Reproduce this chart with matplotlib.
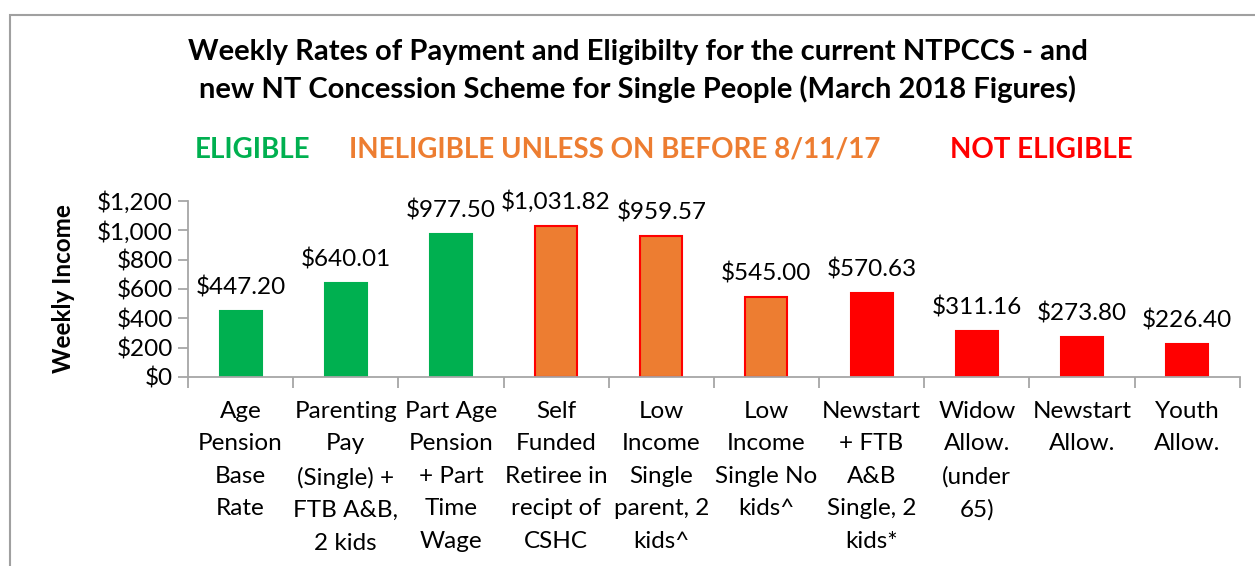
# weekly payment rates vs eligibility for the NT concession scheme (single people)

import matplotlib
matplotlib.use('Agg')
from matplotlib import pyplot as plt
from matplotlib.patches import Rectangle

plt.rcParams['font.family'] = ['Lato', 'DejaVu Sans']

categories = [
    "Age\nPension\nBase\nRate",
    "Parenting\nPay\n(Single) +\nFTB A&B,\n2 kids",
    "Part Age\nPension\n+ Part\nTime\nWage",
    "Self\nFunded\nRetiree in\nrecipt of\nCSHC",
    "Low\nIncome\nSingle\nparent, 2\nkids^",
    "Low\nIncome\nSingle No\nkids^",
    "Newstart\n+ FTB\nA&B\nSingle, 2\nkids*",
    "Widow\nAllow.\n(under\n65)",
    "Newstart\nAllow.",
    "Youth\nAllow.",
]
weekly_income = [447.20, 640.01, 977.50, 1031.82, 959.57, 545.00, 570.63, 311.16, 273.80, 226.40]
status = ["eligible"] * 3 + ["before"] * 4 + ["not"] * 3

GREEN = '#00B050'
ORANGE = '#ED7D31'
RED = '#FF0000'
AXIS = '#A6A6A6'

fill = {"eligible": GREEN, "before": ORANGE, "not": RED}
edge = {"eligible": GREEN, "before": RED, "not": RED}
# the "before 8/11/17" group is coloured by its bar fill, except Newstart + FTB which is red
fills = [fill[s] for s in status]
edges = [edge[s] for s in status]
fills[6] = RED

fig = plt.figure(figsize=(12.55, 5.66), dpi=100)
ax = fig.add_axes([0.1498, 0.334, 0.838, 0.311])

x = list(range(len(categories)))
bars = ax.bar(x, weekly_income, width=0.4, color=fills, edgecolor=edges, linewidth=1.5)

for xi, v in zip(x, weekly_income):
    ax.annotate(f"${v:,.2f}", (xi, v), xytext=(0, 9), textcoords='offset points',
                ha='center', va='bottom', fontsize=17.5)

ax.set_xlim(-0.5, len(categories) - 0.5)
ax.set_ylim(0, 1200)
ax.set_yticks(range(0, 1201, 200))
ax.set_yticklabels([f"${t:,}" for t in range(0, 1201, 200)], fontsize=17.5)
ax.set_xticks([i - 0.5 for i in range(len(categories) + 1)])
ax.set_xticklabels([])
ax.set_xticks(x, minor=True)
ax.set_xticklabels(categories, minor=True, fontsize=17.5, linespacing=1.68, va='top')
ax.tick_params(axis='x', which='minor', length=0, pad=17)
ax.tick_params(axis='x', which='major', length=8, color=AXIS, width=1.3)
ax.tick_params(axis='y', length=7, color=AXIS, width=1.3, pad=4)

for s in ['top', 'right']:
    ax.spines[s].set_visible(False)
for s in ['left', 'bottom']:
    ax.spines[s].set_color(AXIS)
    ax.spines[s].set_linewidth(1.3)

ax.set_ylabel("Weekly Income", fontsize=17.5, fontweight='bold')
ax.yaxis.set_label_coords(-0.107, 0.5)

fig.text(0.508, 0.874, "Weekly Rates of Payment and Eligibilty for the current NTPCCS - and\n"
         "new NT Concession Scheme for Single People (March 2018 Figures)",
         ha='center', va='center', fontsize=21, fontweight='bold', linespacing=1.45)

fig.text(0.201, 0.735, "ELIGIBLE", color=GREEN, ha='center', va='center', fontsize=20, fontweight='bold')
fig.text(0.49, 0.735, "INELIGIBLE UNLESS ON BEFORE 8/11/17", color=ORANGE, ha='center', va='center',
         fontsize=20, fontweight='bold')
fig.text(0.83, 0.735, "NOT ELIGIBLE", color=RED, ha='center', va='center', fontsize=20, fontweight='bold')

# chart frame
fig.patches.append(Rectangle((0.008, -0.1), 1.1, 1.074, transform=fig.transFigure,
                             fill=False, edgecolor='#A0A0A0', linewidth=1.5))

fig.savefig('out.png', dpi=100)
